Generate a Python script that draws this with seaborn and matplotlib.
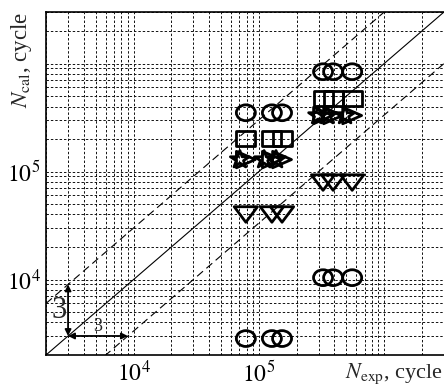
import numpy as np
import pandas as pd
import matplotlib
matplotlib.use("Agg")
import matplotlib.pyplot as plt
import seaborn as sns
from matplotlib.markers import MarkerStyle
from matplotlib.transforms import Affine2D
from matplotlib.ticker import LogLocator, FixedLocator, NullFormatter

# ---------------- data ----------------
circle_x = [7.87e4, 1.27e5, 1.53e5, 7.87e4, 1.27e5, 1.53e5,
            3.25e5, 3.91e5, 5.55e5, 3.25e5, 3.91e5, 5.55e5]
circle_y = [3.5e5, 3.5e5, 3.5e5, 2.84e3, 2.84e3, 2.84e3,
            8.4e5, 8.4e5, 8.4e5, 1.04e4, 1.04e4, 1.04e4]

square_x = [7.87e4, 1.27e5, 1.53e5, 3.25e5, 3.91e5, 5.55e5]
square_y = [2.02e5, 2.02e5, 2.02e5, 4.74e5, 4.74e5, 4.74e5]

tri_right_x = [7.87e4, 1.27e5, 1.53e5, 3.25e5, 3.91e5, 5.55e5]
tri_right_y = [1.29e5, 1.29e5, 1.29e5, 3.3e5, 3.3e5, 3.3e5]

star_x = [7.05e4, 1.10e5, 1.37e5, 2.97e5, 3.5e5, 4.87e5]
star_y = [1.29e5, 1.29e5, 1.29e5, 3.3e5, 3.3e5, 3.3e5]

tri_down_x = [7.87e4, 1.27e5, 1.53e5, 3.25e5, 3.91e5, 5.55e5]
tri_down_y = [4.0e4, 4.0e4, 4.0e4, 7.9e4, 7.9e4, 7.9e4]

axis_limits = [2e3, 3e6]
band_factors = [1, 3, 1 / 3]
arrow_origin = 3e3
arrow_factor = 3
major_ticks = [1e4, 1e5, 1e6]
tick_labels = [r"$10^4$", r"$10^5$", ""]
xlabel_text = r"$N_{\rm exp}$, cycle"
ylabel_text = r"$N_{\rm cal}$, cycle"

# ---------------- style ----------------
sns.set_style("white")
plt.rcParams["font.family"] = ["Liberation Serif", "DejaVu Serif"]
plt.rcParams["mathtext.fontset"] = "stix"

fig = plt.figure(figsize=(4.44, 3.87), dpi=100)
ax = fig.add_axes([46 / 444, 32 / 387, 398 / 444, 343 / 387])
ax.set_xscale("log")
ax.set_yscale("log")
ax.set_xlim(axis_limits)
ax.set_ylim(axis_limits)

# reference lines
line_x = np.array(axis_limits)
for f in band_factors:
    ls = "-" if f == 1 else (0, (7, 4))
    sns.lineplot(x=line_x, y=line_x * f, color="black", lw=0.8,
                 linestyle=ls, ax=ax, zorder=2)

# markers
series = [
    (circle_x, circle_y, MarkerStyle("o", fillstyle="none", transform=Affine2D().scale(1.2, 1.0)), 130),
    (square_x, square_y, MarkerStyle("s", fillstyle="none", transform=Affine2D().scale(1.2, 1.0)), 130),
    (star_x, star_y, MarkerStyle("*", fillstyle="none", transform=Affine2D().scale(1.1, 1.0)), 170),
    (tri_right_x, tri_right_y, MarkerStyle(">", fillstyle="none", transform=Affine2D().scale(1.15, 1.0)), 140),
    (tri_down_x, tri_down_y, MarkerStyle("v", fillstyle="none", transform=Affine2D().scale(1.5, 1.0)), 125),
]
for xs, ys, m, s in series:
    df = pd.DataFrame({"x": xs, "y": ys})
    sns.scatterplot(data=df, x="x", y="y", marker=m, s=s, color="black",
                    ax=ax, zorder=3, legend=False)
    ax.collections[-1].set_linewidth(2.0)

# grid
for axis in (ax.xaxis, ax.yaxis):
    axis.set_major_locator(FixedLocator(major_ticks))
    axis.set_minor_locator(LogLocator(base=10, subs=np.arange(2, 10), numticks=20))
    axis.set_minor_formatter(NullFormatter())
ax.set_xticklabels(tick_labels)
ax.set_yticklabels(tick_labels)
ax.grid(True, which="both", color="#111111", lw=0.7, linestyle=(0, (2.5, 2)), zorder=1)
ax.set_axisbelow(True)
ax.tick_params(which="major", direction="in", length=4, width=1, labelsize=17,
               colors="black", pad=4)
ax.tick_params(which="minor", length=0)
ax.set_xlabel("")
ax.set_ylabel("")

for side in ("left", "bottom", "top"):
    ax.spines[side].set_color("black")
    ax.spines[side].set_linewidth(1.2)
ax.spines["right"].set_visible(False)

# axis labels placed where the 10^6 labels would be
ax.text(0.997, -0.018, xlabel_text, transform=ax.transAxes, ha="right", va="top",
        fontsize=16)
ax.text(-0.062, 1.0, ylabel_text, transform=ax.transAxes, ha="center", va="top",
        rotation=90, fontsize=16.5)

# factor-of-3 arrows
arrow_kw = dict(arrowstyle="<|-|>", color="black", lw=1.3, mutation_scale=9,
                shrinkA=0, shrinkB=0)
ax.annotate("", xy=(arrow_origin, arrow_origin * arrow_factor),
            xytext=(arrow_origin, arrow_origin), arrowprops=arrow_kw)
ax.annotate("", xy=(arrow_origin * arrow_factor, arrow_origin),
            xytext=(arrow_origin, arrow_origin), arrowprops=arrow_kw)
ax.annotate(str(arrow_factor), xy=(arrow_origin, arrow_origin * np.sqrt(arrow_factor)),
            xytext=(-1, 0), textcoords="offset points", ha="right", va="center",
            fontsize=22)
ax.annotate(str(arrow_factor), xy=(arrow_origin * np.sqrt(arrow_factor), arrow_origin),
            xytext=(0, 1), textcoords="offset points", ha="center", va="bottom",
            fontsize=13)

fig.savefig("out.png", dpi=100)
